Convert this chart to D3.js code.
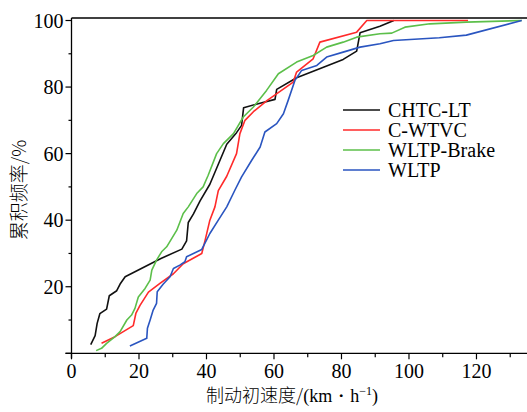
<!DOCTYPE html>
<html>
<head>
<meta charset="utf-8">
<script src="https://cdn.jsdelivr.net/npm/d3@7"></script>
<style>
  body { margin: 0; background: #fff; }
  svg { display: block; }
</style>
</head>
<body>
<div id="chart"></div>
<script>
// cumulative frequency curves, [speed km/h, percent]
const chtcLT = [[5.7,2.6],[7,5.3],[7.6,9],[8.4,11.9],[10.4,13.3],[11.2,17.3],[13.4,18.8],[14.4,20.8],[15.9,23],
  [26.5,28.5],[32.7,31.3],[34.1,33.8],[34.6,39.3],[36.1,41.8],[38.1,45.8],[41,50.8],[43.5,56.8],[46,62.8],
  [48.9,66.3],[50.4,68.5],[51,73.8],[55.3,75],[60.3,76.3],[60.8,79.3],[66.7,82.8],[75.6,86.3],[80.5,88.3],
  [84.5,90.8],[85.5,96.3],[91.4,98.3],[95.5,100]];
const cWTVC = [[8.9,3],[12.9,5],[18.3,8.3],[19.1,12.1],[20.3,14.4],[22.8,18.4],[26.2,21],[30.2,23.9],[33.1,26.9],
  [38.6,30],[39.6,34],[41,40],[42.5,44],[43.5,48.9],[46,53.2],[48.9,60],[49.9,66],[51.4,70],[53.9,72.6],
  [58,76],[65.7,81.5],[66.7,84.5],[71.6,88.5],[73.6,93.5],[84.5,96.5],[87.5,100],[117.5,100]];
const wltpBrake = [[7.3,0.8],[8.9,1.5],[10.4,3],[12.9,5],[14.4,6.5],[16.4,10],[17.8,11.5],[18.8,13.5],[19.8,16.9],
  [21.8,19.5],[23.3,22],[23.8,25],[25.2,28],[26.7,30.5],[28.2,32],[31.2,37],[33.1,42],[34.6,44],[37.1,48],
  [39,50],[40.5,53.5],[43,60],[45,63],[48,66],[50.9,71],[53.9,74],[57.8,79],[61.3,84],[66.7,87.5],
  [71.6,89.5],[75.6,92],[80.5,93.5],[84.5,95],[91.4,96],[94.9,96.2],[98.8,98],[106.2,99],[117,99.5],[133.4,100]];
const wltp = [[17.3,2.2],[22.3,4.5],[22.5,7.5],[23.3,10],[24.2,13],[25.2,15],[25.4,18.5],[27.2,20.8],[29.2,23],
  [30.2,25.5],[32.1,26.5],[33.6,27.5],[34.1,29],[38.6,31.2],[40,34],[41,36],[43.5,40],[46,44],[48.4,49],
  [50.4,53],[53.4,58],[55.9,62],[57.3,66.5],[60.8,69],[62.8,72],[64.2,76],[66.2,82],[68.2,85],[72.7,86.5],
  [75.6,89],[80.5,90.5],[85.5,92],[91.4,93],[95.4,94],[109,94.8],[117,95.6],[133.4,100]];

const seriesNames = ["CHTC-LT", "C-WTVC", "WLTP-Brake", "WLTP"];
const seriesData = [chtcLT, cWTVC, wltpBrake, wltp];
const seriesColors = ["#111111", "#ff2a2a", "#5cbf4a", "#2a55c0"];
const xTicks = [0, 20, 40, 60, 80, 100, 120];
const yTicks = [20, 40, 60, 80, 100];

const width = 527, height = 412;
const serif = "'Liberation Serif', 'Times New Roman', serif";
const cjk = "'Noto Sans CJK SC', sans-serif";

const svg = d3.select("#chart").append("svg")
  .attr("width", width)
  .attr("height", height);

const x = d3.scaleLinear().domain([0, 135]).range([71.5, 527.1]);
const y = d3.scaleLinear().domain([0, 100]).range([353.3, 20.5]);
const frameTop = 18;

// top frame
svg.append("line")
  .attr("x1", x(0)).attr("x2", width)
  .attr("y1", frameTop).attr("y2", frameTop)
  .attr("stroke", "#000").attr("stroke-width", 1.3);

// x axis
const xAxis = svg.append("g").attr("transform", "translate(0," + y(0) + ")");
xAxis.append("line").attr("x1", x(0) - 6).attr("x2", width)
  .attr("stroke", "#000").attr("stroke-width", 1.3);
xAxis.selectAll(".minor").data(d3.range(10, 135, 20)).join("line")
  .attr("x1", d => x(d)).attr("x2", d => x(d))
  .attr("y1", 0).attr("y2", 4)
  .attr("stroke", "#000").attr("stroke-width", 1.2);
xAxis.selectAll(".major").data(xTicks).join("line")
  .attr("x1", d => x(d)).attr("x2", d => x(d))
  .attr("y1", 0).attr("y2", 6)
  .attr("stroke", "#000").attr("stroke-width", 1.2);
xAxis.selectAll("text").data(xTicks).join("text")
  .attr("x", d => x(d)).attr("y", 25)
  .attr("text-anchor", "middle")
  .style("font-family", serif).style("font-size", "20px")
  .text(d => d);

// y axis
const yAxis = svg.append("g").attr("transform", "translate(" + x(0) + ",0)");
yAxis.append("line").attr("y1", frameTop).attr("y2", y(0) + 5)
  .attr("stroke", "#000").attr("stroke-width", 1.3);
yAxis.selectAll(".minor").data(d3.range(10, 100, 20)).join("line")
  .attr("y1", d => y(d)).attr("y2", d => y(d))
  .attr("x1", -3).attr("x2", 0)
  .attr("stroke", "#000").attr("stroke-width", 1.2);
yAxis.selectAll(".major").data([0].concat(yTicks)).join("line")
  .attr("y1", d => y(d)).attr("y2", d => y(d))
  .attr("x1", -6).attr("x2", 0)
  .attr("stroke", "#000").attr("stroke-width", 1.2);
yAxis.selectAll("text").data(yTicks).join("text")
  .attr("x", -8).attr("y", d => y(d))
  .attr("dy", "0.35em")
  .attr("text-anchor", "end")
  .style("font-family", serif).style("font-size", "20px")
  .text(d => d);

// axis titles
const xTitle = svg.append("text")
  .attr("x", 292).attr("y", 402)
  .attr("text-anchor", "middle")
  .style("font-size", "18px");
xTitle.append("tspan").style("font-family", cjk).style("font-weight", 300).text("制动初速度/");
xTitle.append("tspan").style("font-family", serif).text("(km・h");
xTitle.append("tspan").style("font-family", serif).style("font-size", "12px")
  .attr("dy", -7).text("−1");
xTitle.append("tspan").style("font-family", serif).attr("dy", 7).text(")");

svg.append("text")
  .attr("transform", "translate(26,190) rotate(-90)")
  .attr("text-anchor", "middle")
  .style("font-family", cjk).style("font-weight", 300).style("font-size", "19px")
  .text("累积频率/%");

// curves
const line = d3.line()
  .x(d => x(d[0]))
  .y(d => y(d[1]));

svg.selectAll(".curve").data(seriesData).join("path")
  .attr("class", "curve")
  .attr("fill", "none")
  .attr("stroke", (d, i) => seriesColors[i])
  .attr("stroke-width", 1.6)
  .attr("stroke-linejoin", "round")
  .attr("d", line);

// legend
const legend = svg.append("g").attr("transform", "translate(343,110)");
seriesNames.forEach((name, i) => {
  const row = legend.append("g").attr("transform", "translate(0," + i * 20 + ")");
  row.append("line").attr("x1", 0).attr("x2", 37)
    .attr("stroke", seriesColors[i]).attr("stroke-width", 1.6);
  row.append("text").attr("x", 45).attr("dy", "0.35em")
    .style("font-family", serif).style("font-size", "20px")
    .text(name);
});
</script>
</body>
</html>
